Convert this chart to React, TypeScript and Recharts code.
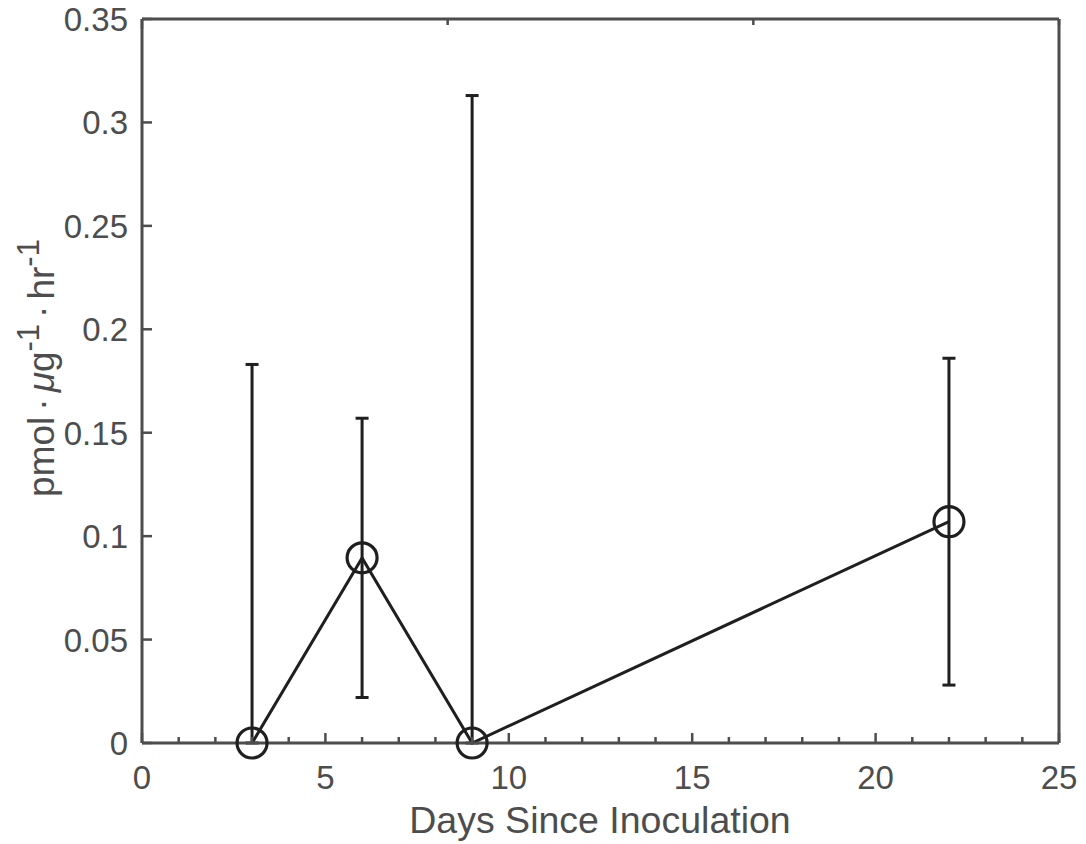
import { ComposedChart, Line, XAxis, YAxis, ErrorBar } from 'recharts';

// days after inoculation and measured rate, with symmetric error (clipped at 0 like the source)
const days = [3, 6, 9, 22];
const rate = [0, 0.0895, 0, 0.107];
const errors = [0.183, 0.0675, 0.313, 0.079];

const xTicks = Array.from({ length: 26 }, (_, i) => i);
const yTicks = [0, 0.05, 0.1, 0.15, 0.2, 0.25, 0.3, 0.35];

const data = days.map((d, i) => ({
  day: d,
  rate: rate[i],
  err: [Math.min(errors[i], rate[i]), errors[i]],
}));

const AXIS = '#4d4d4d';
const INK = '#1f1f1f';
const FONT = '"Liberation Sans", Arial, Helvetica, sans-serif';

function xTick(side: 'bottom' | 'top') {
  return (props: any) => {
    const { x, y, payload } = props;
    const v = payload.value as number;
    const major = v % 5 === 0;
    const len = major ? 10 : 6;
    const dir = side === 'bottom' ? -1 : 1;
    return (
      <g>
        <line x1={x} x2={x} y1={y} y2={y + dir * len} stroke={AXIS} strokeWidth={2.5} />
        {side === 'bottom' && major && (
          <text x={x} y={y + 46} textAnchor="middle" fill={AXIS} fontSize={33} fontFamily={FONT}>
            {v}
          </text>
        )}
      </g>
    );
  };
}

function yTick(side: 'left' | 'right') {
  return (props: any) => {
    const { x, y, payload } = props;
    const dir = side === 'left' ? 1 : -1;
    return (
      <g>
        <line x1={x} x2={x + dir * 10} y1={y} y2={y} stroke={AXIS} strokeWidth={2.5} />
        {side === 'left' && (
          <text x={x - 14} y={y + 12} textAnchor="end" fill={AXIS} fontSize={33} fontFamily={FONT}>
            {String(payload.value)}
          </text>
        )}
      </g>
    );
  };
}

const YLabel = () => (
  <text
    x={54}
    y={368}
    transform="rotate(-90 54 368)"
    textAnchor="middle"
    fill={AXIS}
    fontSize={37}
    fontFamily={FONT}
  >
    <tspan>pmol</tspan>
    <tspan dx={6}>·</tspan>
    <tspan dx={6} fontStyle="italic">μ</tspan>
    <tspan>g</tspan>
    <tspan dy={-15} fontSize={31}>-1</tspan>
    <tspan dy={15} dx={6}>·</tspan>
    <tspan dx={6}>hr</tspan>
    <tspan dy={-15} fontSize={31}>-1</tspan>
  </text>
);

const XLabel = () => (
  <text x={600} y={833} textAnchor="middle" fill={AXIS} fontSize={37.5} fontFamily={FONT}>
    Days Since Inoculation
  </text>
);

export default function App() {
  return (
    <div style={{ position: 'absolute', left: 0, top: 0, background: '#fff' }}>
      <ComposedChart width={1086} height={844} data={data} margin={{ top: 0, right: 0, bottom: 0, left: 0 }}>
        <XAxis
          dataKey="day"
          type="number"
          domain={[0, 25]}
          ticks={xTicks}
          interval={0}
          height={101}
          tickSize={0}
          tickMargin={0}
          tickLine={false}
          axisLine={{ stroke: AXIS, strokeWidth: 3 }}
          tick={xTick('bottom')}
          label={XLabel}
        />
        <XAxis
          xAxisId="top"
          orientation="top"
          type="number"
          domain={[0, 25]}
          ticks={xTicks}
          interval={0}
          height={19}
          tickSize={0}
          tickMargin={0}
          tickLine={false}
          axisLine={{ stroke: AXIS, strokeWidth: 3 }}
          tick={xTick('top')}
        />
        <YAxis
          type="number"
          domain={[0, 0.35]}
          ticks={yTicks}
          interval={0}
          width={142}
          tickSize={0}
          tickMargin={0}
          tickLine={false}
          axisLine={{ stroke: AXIS, strokeWidth: 3 }}
          tick={yTick('left')}
          label={YLabel}
        />
        <YAxis
          yAxisId="right"
          orientation="right"
          type="number"
          domain={[0, 0.35]}
          ticks={yTicks}
          interval={0}
          width={27}
          tickSize={0}
          tickMargin={0}
          tickLine={false}
          axisLine={{ stroke: AXIS, strokeWidth: 3 }}
          tick={yTick('right')}
        />
        <Line
          dataKey="rate"
          stroke={INK}
          strokeWidth={3}
          isAnimationActive={false}
          dot={(p: any) => (
            <circle key={p.index} cx={p.cx} cy={p.cy} r={15} fill="none" stroke={INK} strokeWidth={3.2} />
          )}
          activeDot={false}
        >
          <ErrorBar dataKey="err" direction="y" width={6.5} stroke={INK} strokeWidth={3} isAnimationActive={false} />
        </Line>
      </ComposedChart>
    </div>
  );
}
